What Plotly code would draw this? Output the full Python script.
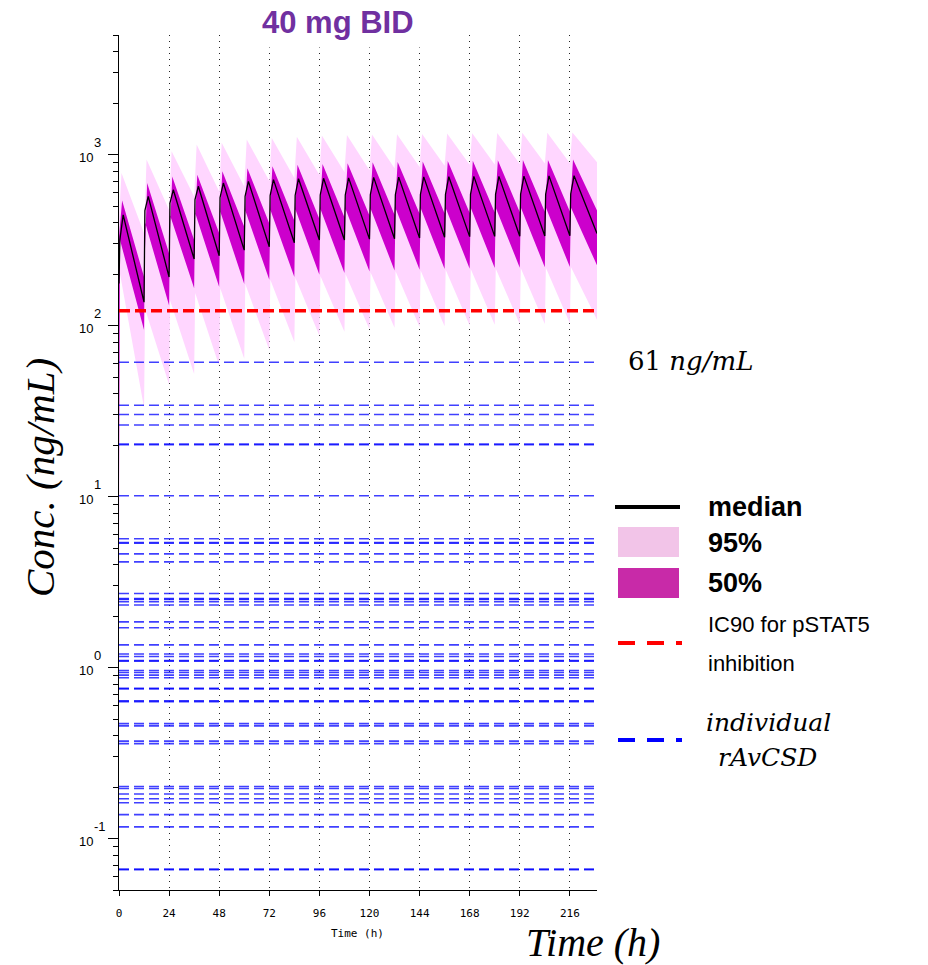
import plotly.graph_objects as go

# ---------------- data (ng/mL) ----------------
# dosing every 12 h (BID); last segment ends at 229 h
DOSE_TIMES = [0, 12, 24, 36, 48, 60, 72, 84, 96, 108, 120, 132, 144, 156, 168, 180, 192, 204, 216]
T_END = 229

# values at each dose time (pre-dose trough) plus the value at T_END
med_trough = [176, 137, 192, 245, 256, 276, 289, 305, 316, 316, 320, 322, 325, 328, 331, 332, 333, 334, 335, 345]
# top of the steep post-dose rise and the post-dose peak of the median
med_rise = [316, 470, 520, 545, 560, 570, 575, 578, 580, 580, 582, 582, 584, 584, 585, 585, 586, 586, 588]
med_peak = [444, 569, 622, 652, 681, 697, 713, 722, 726, 730, 735, 738, 740, 742, 745, 745, 748, 750, 752]

# 50% prediction interval
hi50_trough = [330, 192, 264, 316, 346, 378, 395, 410, 420, 430, 440, 445, 450, 452, 455, 458, 460, 462, 465, 470]
hi50_peak = [538, 681, 745, 762, 798, 830, 853, 870, 880, 890, 900, 905, 910, 915, 920, 925, 930, 930, 935]
lo50_trough = [12, 94, 131, 165, 168, 175, 185, 192, 198, 203, 207, 210, 212, 214, 215, 217, 218, 219, 220, 225]
lo50_peak = [316, 400, 440, 455, 465, 470, 475, 478, 480, 482, 484, 485, 486, 487, 488, 489, 490, 490, 490]

# 95% prediction interval
hi95_trough = [420, 346, 474, 569, 608, 650, 700, 730, 760, 790, 810, 830, 845, 860, 870, 875, 880, 885, 890, 900]
hi95_peak = [780, 935, 1046, 1145, 1171, 1225, 1250, 1270, 1290, 1300, 1310, 1315, 1320, 1325, 1330, 1335, 1340, 1340, 1345]
lo95_trough = [1.6, 33, 45, 52, 58, 64, 72, 80, 87, 92, 95, 97, 98, 99, 100, 101, 102, 102, 103, 108]
lo95_peak = [200, 125, 140, 155, 165, 175, 185, 190, 195, 200, 205, 208, 210, 212, 214, 215, 216, 218, 220]

IC90 = 122
# individual rAvCSD values
ravcsd = [61, 34.2, 30.2, 26.2, 20.3, 20.1, 10.1, 5.66, 5.38, 5.33, 4.62, 4.15,
          2.71, 2.53, 2.51, 2.43, 2.32, 1.85, 1.71, 1.357, 1.20, 1.16, 1.10, 1.09,
          0.96, 0.935, 0.903, 0.871, 0.757, 0.750, 0.638, 0.632, 0.470, 0.456,
          0.371, 0.359, 0.2015, 0.196, 0.182, 0.171, 0.162, 0.138, 0.117, 0.0662, 0.0657]

x_ticks = [0, 24, 48, 72, 96, 120, 144, 168, 192, 216]
y_decades = [-1, 0, 1, 2, 3]

# ---------------- geometry helpers ----------------
L, R, T, B = 119, 597, 35, 890
W, H = R - L, B - T


def px(x):
    return (x - L) / W


def py(y):
    return (B - y) / H


def edge(trough, peak, offset):
    xs, ys = [], []
    for k, td in enumerate(DOSE_TIMES):
        xs += [td, td + offset]
        ys += [trough[k], peak[k]]
    xs.append(T_END)
    ys.append(trough[-1])
    return xs, ys


def band(hi_t, hi_p, lo_t, lo_p, hi_off, lo_off):
    ux, uy = edge(hi_t, hi_p, hi_off)
    lx, ly = edge(lo_t, lo_p, lo_off)
    return ux + lx[::-1], uy + ly[::-1]


fig = go.Figure()

bx, by = band(hi95_trough, hi95_peak, lo95_trough, lo95_peak, 1.2, 0.5)
fig.add_trace(go.Scatter(x=bx, y=by, mode="lines", fill="toself",
                         fillcolor="rgb(255,214,255)", line=dict(width=0),
                         hoverinfo="skip", showlegend=False))
bx, by = band(hi50_trough, hi50_peak, lo50_trough, lo50_peak, 1.5, 0.5)
fig.add_trace(go.Scatter(x=bx, y=by, mode="lines", fill="toself",
                         fillcolor="rgb(204,0,204)", line=dict(width=0),
                         hoverinfo="skip", showlegend=False))

mx, my = [], []
for k, td in enumerate(DOSE_TIMES):
    mx += [td, td + 0.4, td + 2]
    my += [med_trough[k], med_rise[k], med_peak[k]]
mx.append(T_END)
my.append(med_trough[-1])
fig.add_trace(go.Scatter(x=mx, y=my, mode="lines", line=dict(color="black", width=1.3),
                         showlegend=False))

for v in ravcsd:
    fig.add_trace(go.Scatter(x=[0, T_END], y=[v, v], mode="lines",
                             line=dict(color="rgba(0,0,255,0.75)", width=1.6, dash="10px,5px"),
                             showlegend=False, hoverinfo="skip"))

fig.add_trace(go.Scatter(x=[0, T_END], y=[IC90, IC90], mode="lines",
                         line=dict(color="rgb(255,0,0)", width=3.5, dash="11px,5px"),
                         showlegend=False))

fig.update_xaxes(range=[0, T_END], tickvals=x_ticks, ticks="outside", ticklen=5,
                 tickcolor="black", showline=True, linecolor="black", linewidth=1,
                 showgrid=True, gridcolor="#222", gridwidth=1, griddash="1px,5px",
                 zeroline=False, ticklabelstandoff=8,
                 tickfont=dict(family="DejaVu Sans Mono", size=11, color="black"))
fig.update_yaxes(type="log", range=[-1.30103, 3.69897], dtick=1, ticks="outside", ticklen=10,
                 tickcolor="black", showline=True, linecolor="black", linewidth=1,
                 showgrid=False, zeroline=False, showticklabels=False,
                 minor=dict(dtick="D1", ticks="outside", ticklen=5, tickcolor="black", showgrid=False))

ann = []
# decade labels: base "10" plus a raised exponent
for d in y_decades:
    ann.append(dict(x=px(77), xref="paper", y=d, yref="y", xanchor="left", yanchor="middle",
                    text="10", yshift=-3,
                    font=dict(family="Liberation Sans", size=13, color="black")))
    ann.append(dict(x=px(92), xref="paper", y=d, yref="y", xanchor="left", yanchor="middle",
                    text=str(d), yshift=12,
                    font=dict(family="Liberation Sans", size=13, color="black")))

ann += [
    dict(x=px(338), y=py(22), text="<b>40 mg BID</b>", bgcolor="white", borderpad=7,
         font=dict(family="Liberation Sans", size=31, color="#7030A0")),
    dict(x=px(357), y=py(933), text="Time (h)",
         font=dict(family="DejaVu Sans Mono", size=11, color="black")),
    dict(x=px(593), y=py(943), text="<i>Time (h)</i>",
         font=dict(family="Liberation Serif", size=40, color="black")),
    dict(x=px(40), y=py(478), text="<i>Conc. (ng/mL)</i>", textangle=-90,
         font=dict(family="Liberation Serif", size=41, color="black")),
    dict(x=px(626), y=py(361), text="61 <i>ng/mL</i>", xanchor="left",
         font=dict(family="DejaVu Serif", size=26, color="black")),
    dict(x=px(706), y=py(507), text="<b>median</b>", xanchor="left",
         font=dict(family="Liberation Sans", size=27, color="black")),
    dict(x=px(706), y=py(543), text="<b>95%</b>", xanchor="left",
         font=dict(family="Liberation Sans", size=27, color="black")),
    dict(x=px(706), y=py(583), text="<b>50%</b>", xanchor="left",
         font=dict(family="Liberation Sans", size=27, color="black")),
    dict(x=px(706), y=py(624), text="IC90 for pSTAT5", xanchor="left",
         font=dict(family="Liberation Sans", size=22, color="black")),
    dict(x=px(706), y=py(663), text="inhibition", xanchor="left",
         font=dict(family="Liberation Sans", size=22, color="black")),
    dict(x=px(768), y=py(722), text="<i>individual</i>",
         font=dict(family="DejaVu Serif", size=25, color="black")),
    dict(x=px(767), y=py(757), text="<i>rAvCSD</i>",
         font=dict(family="DejaVu Serif", size=25, color="black")),
]
for a in ann:
    a.setdefault("xref", "paper")
    a.setdefault("yref", "paper")
    a.setdefault("xanchor", "center")
    a.setdefault("yanchor", "middle")
    a.setdefault("showarrow", False)
fig.update_layout(annotations=ann)

shapes = [
    dict(type="line", x0=px(615), x1=px(680), y0=py(507), y1=py(507),
         line=dict(color="black", width=4)),
    dict(type="rect", x0=px(618), x1=px(679), y0=py(527), y1=py(557),
         fillcolor="rgb(242,196,232)", line=dict(width=0)),
    dict(type="rect", x0=px(618), x1=px(679), y0=py(568), y1=py(598),
         fillcolor="rgb(200,42,168)", line=dict(width=0)),
    dict(type="line", x0=px(618), x1=px(682), y0=py(643), y1=py(643),
         line=dict(color="rgb(255,0,0)", width=4, dash="17px,12px")),
    dict(type="line", x0=px(618), x1=px(682), y0=py(740), y1=py(740),
         line=dict(color="rgb(0,0,255)", width=4, dash="17px,12px")),
]
for s in shapes:
    s["xref"] = "paper"
    s["yref"] = "paper"
fig.update_layout(shapes=shapes)

fig.update_layout(width=928, height=965, margin=dict(l=L, r=928 - R, t=T, b=965 - B),
                  paper_bgcolor="white", plot_bgcolor="white", showlegend=False)

fig.write_html("out.html")
